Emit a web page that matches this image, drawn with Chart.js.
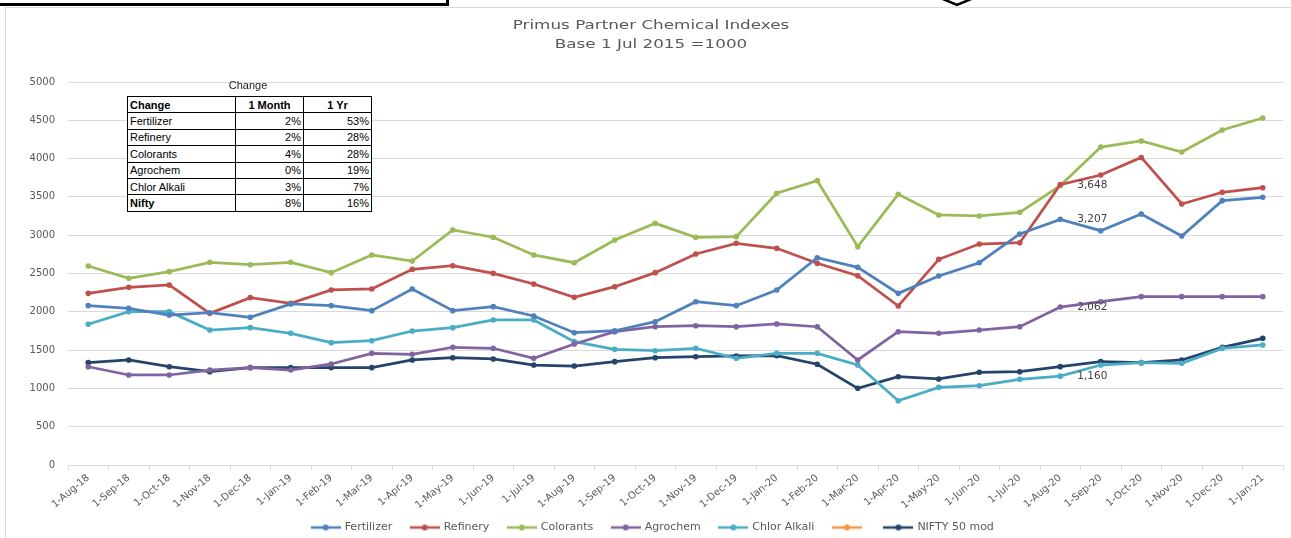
<!DOCTYPE html>
<html><head><meta charset="utf-8">
<script src="https://cdn.jsdelivr.net/npm/chart.js@4/dist/chart.umd.min.js"></script>
<style>
html,body{margin:0;padding:0;background:#fff;overflow:hidden;width:1291px;height:538px;}
#wrap{position:relative;width:1291px;height:538px;overflow:hidden;background:#fff;}
#c{position:absolute;left:0;top:0;}
.frame{position:absolute;left:5px;top:7px;width:1300px;height:560px;border-left:1px solid #D9D9D9;border-top:1px solid #D9D9D9;}
.topbox{position:absolute;left:-3px;top:-5px;width:446px;height:5px;border:3px solid #000;background:#fff;}
.t{position:absolute;left:651px;white-space:nowrap;color:#595959;font-family:"DejaVu Sans";font-size:13px;line-height:19px;transform:translateX(-50%) scaleX(1.29);}
#cap{position:absolute;left:127px;width:242px;top:79px;text-align:center;font:11px "Liberation Sans";color:#222;}
#tbl{position:absolute;left:127px;top:96px;border-collapse:collapse;border:1.5px solid #000;font:11px "Liberation Sans";background:#fff;color:#000;}
#tbl td{border:1px solid #000;padding:0 2px;height:15.4px;line-height:14px;}
#tbl td.n{text-align:right;}
#tbl td.h{text-align:center;font-weight:bold;}
</style></head>
<body><div id="wrap">
<div class="frame"></div>
<canvas id="c" width="1291" height="543"></canvas>
<div class="topbox"></div>
<svg style="position:absolute;left:0;top:0" width="1291" height="12"><polyline points="943,-1 957,5 971,-1" fill="none" stroke="#000" stroke-width="2.5"/></svg>
<div class="t" style="top:15px">Primus Partner Chemical Indexes</div>
<div class="t" style="top:34px">Base 1 Jul 2015 =1000</div>
<div id="cap">Change</div>
<table id="tbl"></table>
</div>
<script>
const categories = ['1-Aug-18','1-Sep-18','1-Oct-18','1-Nov-18','1-Dec-18','1-Jan-19','1-Feb-19','1-Mar-19','1-Apr-19','1-May-19','1-Jun-19','1-Jul-19','1-Aug-19','1-Sep-19','1-Oct-19','1-Nov-19','1-Dec-19','1-Jan-20','1-Feb-20','1-Mar-20','1-Apr-20','1-May-20','1-Jun-20','1-Jul-20','1-Aug-20','1-Sep-20','1-Oct-20','1-Nov-20','1-Dec-20','1-Jan-21'];
const fertilizer = [2080,2045,1958,1988,1928,2102,2080,2015,2298,2015,2067,1945,1727,1753,1871,2132,2080,2285,2706,2581,2241,2467,2641,3016,3207,3059,3277,2990,3451,3494];
const refinery = [2241,2320,2350,1980,2185,2111,2285,2298,2555,2602,2502,2363,2189,2328,2511,2755,2894,2829,2633,2471,2076,2685,2885,2902,3660,3786,4015,3407,3560,3620];
const colorants = [2598,2437,2524,2646,2615,2646,2511,2742,2663,3068,2973,2742,2641,2937,3155,2972,2981,3547,3712,2850,3534,3264,3251,3299,3648,4151,4230,4086,4373,4530];
const agrochem = [1283,1175,1175,1240,1271,1240,1319,1458,1445,1537,1524,1393,1580,1740,1805,1818,1805,1841,1805,1371,1740,1719,1762,1805,2062,2132,2198,2198,2198,2198];
const chlorAlkali = [1837,2002,2002,1762,1793,1719,1597,1623,1749,1793,1893,1893,1610,1510,1492,1524,1393,1458,1458,1305,839,1014,1035,1119,1160,1305,1336,1327,1523,1567];
const emptySeries = [];
const nifty = [1336,1371,1283,1218,1271,1271,1271,1271,1371,1401,1384,1305,1292,1349,1401,1414,1423,1427,1315,1001,1153,1123,1210,1218,1284,1349,1336,1371,1536,1654];
const yTicks = [0,500,1000,1500,2000,2500,3000,3500,4000,4500,5000];
const labelledSeries = ['Colorants','Fertilizer','Agrochem','Chlor Alkali'];
const labelledIndex = 24;
const tableHeader = ['Change','1 Month','1 Yr'];
const tableNames = ['Fertilizer','Refinery','Colorants','Agrochem','Chlor Alkali','Nifty'];
const tableMonth = ['2%','2%','4%','0%','3%','8%'];
const tableYear = ['53%','28%','28%','19%','7%','16%'];

// table
const tbl=document.getElementById('tbl');
let html='<tr><td style="width:103px;font-weight:bold">'+tableHeader[0]+'</td><td class="h" style="width:63px">'+tableHeader[1]+'</td><td class="h" style="width:63px">'+tableHeader[2]+'</td></tr>';
tableNames.forEach((n,i)=>{const b=(n==='Nifty')?' style="font-weight:bold"':'';html+='<tr><td'+b+'>'+n+'</td><td class="n">'+tableMonth[i]+'</td><td class="n">'+tableYear[i]+'</td></tr>';});
tbl.innerHTML=html;

const series=[
 {label:'Fertilizer',data:fertilizer,color:'#4F81BD'},
 {label:'Refinery',data:refinery,color:'#C0504D'},
 {label:'Colorants',data:colorants,color:'#9BBB59'},
 {label:'Agrochem',data:agrochem,color:'#8064A2'},
 {label:'Chlor Alkali',data:chlorAlkali,color:'#4BACC6'},
 {label:'',data:emptySeries,color:'#F79646'},
 {label:'NIFTY 50 mod',data:nifty,color:'#24446B'}
];
function icon(color){const c=document.createElement('canvas');c.width=30;c.height=8;const x=c.getContext('2d');x.strokeStyle=color;x.lineWidth=2.5;x.beginPath();x.moveTo(0,4);x.lineTo(30,4);x.stroke();x.fillStyle=color;x.beginPath();x.arc(15,4,3,0,Math.PI*2);x.fill();return c;}
const icons=series.map(s=>icon(s.color));

const pointLabels={id:'pointLabels',afterDatasetsDraw(chart){const ctx=chart.ctx;ctx.save();ctx.font='10.5px "DejaVu Sans"';ctx.fillStyle='#404040';ctx.textBaseline='middle';ctx.textAlign='left';
 labelledSeries.forEach(name=>{const di=series.findIndex(s=>s.label===name);const p=chart.getDatasetMeta(di).data[labelledIndex];const v=series[di].data[labelledIndex];ctx.fillText(v.toLocaleString('en-US'),p.x+17,p.y);});ctx.restore();}};

new Chart(document.getElementById('c'),{
 type:'line',
 data:{labels:categories,datasets:series.map(s=>({label:s.label,data:s.data,borderColor:s.color,backgroundColor:s.color,pointBackgroundColor:s.color,pointBorderColor:s.color,borderWidth:2.75,pointRadius:2.8,pointBorderWidth:0,tension:0,fill:false}))},
 options:{responsive:false,animation:false,devicePixelRatio:1,
  layout:{padding:{left:23,right:8,top:82,bottom:0}},
  plugins:{title:{display:false},tooltip:{enabled:false},
   legend:{position:'bottom',labels:{usePointStyle:true,pointStyleWidth:27,padding:19,color:'#595959',font:{family:'DejaVu Sans',size:11},
    generateLabels:(chart)=>Chart.defaults.plugins.legend.labels.generateLabels(chart).map((it,i)=>Object.assign(it,{pointStyle:icons[i],fontColor:'#595959'}))}}},
  scales:{
   x:{offset:true,grid:{display:true,drawOnChartArea:false,drawTicks:true,tickLength:5,color:'#D9D9D9',offset:true},border:{color:'#D9D9D9'},
      ticks:{autoSkip:false,minRotation:40,maxRotation:40,padding:2,color:'#595959',font:{family:'DejaVu Sans',size:10}},
      afterFit:(s)=>{s.height=38;s._computeLabelArea=()=>undefined;}},
   y:{min:0,max:5000,afterBuildTicks:(s)=>{s.ticks=yTicks.map(v=>({value:v}));},
      grid:{color:'#D9D9D9',drawTicks:false},border:{display:false},
      ticks:{padding:13,color:'#595959',font:{family:'DejaVu Sans',size:10},callback:(v)=>String(v)},
      afterFit:(s)=>{s.width=45;}}
  }
 },
 plugins:[pointLabels]
});
</script>
</body></html>
